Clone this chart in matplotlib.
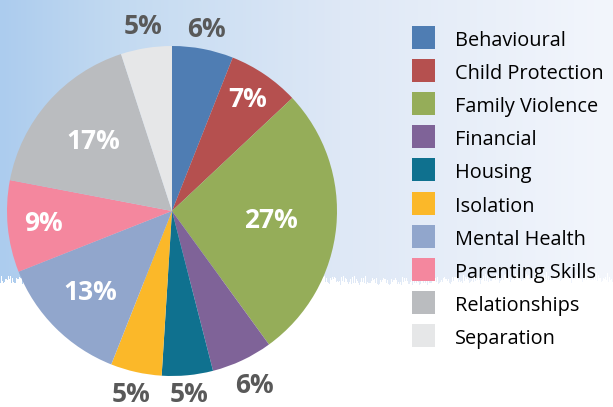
import numpy as np
import matplotlib
matplotlib.use("Agg")
import matplotlib.pyplot as plt
from matplotlib.patches import Rectangle

categories = ["Behavioural", "Child Protection", "Family Violence", "Financial",
              "Housing", "Isolation", "Mental Health", "Parenting Skills",
              "Relationships", "Separation"]
values = [6, 7, 27, 6, 5, 5, 13, 9, 17, 5]
colors = ["#4f7db3", "#b5504f", "#95ad59", "#7f6398", "#0f718f",
          "#fbb829", "#91a6cc", "#f4879e", "#babcbf", "#e6e7e8"]

# label layout: radial distance (in pie radii) and whether inside the pie
label_radius = [1.12, 0.82, 0.60, 1.17, 1.115, 1.14, 0.70, 0.78, 0.64, 1.135]
label_inside = [False, True, True, False, False, False, True, True, True, False]

W, H = 613, 407
fig = plt.figure(figsize=(W / 100, H / 100), dpi=100)

# ---- background (sky gradient with grassy edge) ----
bg = fig.add_axes([0, 0, 1, 1])
bg.set_axis_off()
xs = np.arange(W)
stops_x = [0, 120, 340, 613]
stops_c = np.array([[172, 204, 238], [195, 218, 241], [222, 232, 246], [243, 246, 252]]) / 255
grad = np.stack([np.interp(xs, stops_x, stops_c[:, k]) for k in range(3)], axis=1)
spikes = 8 * np.abs(np.sin(xs * 1.7) * np.sin(xs * 0.31 + 2.0)) + 3 * np.abs(np.sin(xs * 0.83 + 0.5))
edge = 284 - spikes + 2 * np.sin(xs * 0.02)
img = np.ones((H, W, 3))
ys = np.arange(H)[:, None]
mask = ys < edge[None, :]
full = np.broadcast_to(grad[None, :, :], (H, W, 3))
img[mask] = full[mask]
bg.imshow(img, extent=[0, W, H, 0], aspect="auto", interpolation="bilinear")
bg.set_xlim(0, W)
bg.set_ylim(H, 0)

# ---- legend ----
for i, cat in enumerate(categories):
    y0 = 26 + 33.1 * i
    bg.add_patch(Rectangle((412, y0), 23, 23, color=colors[i], lw=0))
    bg.text(455, y0 + 15, cat, va="center", ha="left", fontsize=14.3,
            family="Open Sans", color="#000000")

# ---- pie ----
cx, cy, R = 172, 211, 165
ax = fig.add_axes([(cx - R) / W, (H - cy - R) / H, 2 * R / W, 2 * R / H])
ax.pie(values, colors=colors, startangle=90, counterclock=False, radius=1,
       wedgeprops=dict(linewidth=0))
ax.set_xlim(-1, 1)
ax.set_ylim(-1, 1)
ax.set_axis_off()

cum = np.cumsum(values)
total = float(sum(values))
for v, c, r, inside in zip(values, cum, label_radius, label_inside):
    ang = np.deg2rad(90 - 360 * (c - v / 2) / total)
    ax.text(r * np.cos(ang), r * np.sin(ang), f"{v}%", ha="center", va="center",
            fontsize=19, fontweight="bold", family="Open Sans",
            color="white" if inside else "#595959", clip_on=False)

fig.savefig("out.png", dpi=100)
